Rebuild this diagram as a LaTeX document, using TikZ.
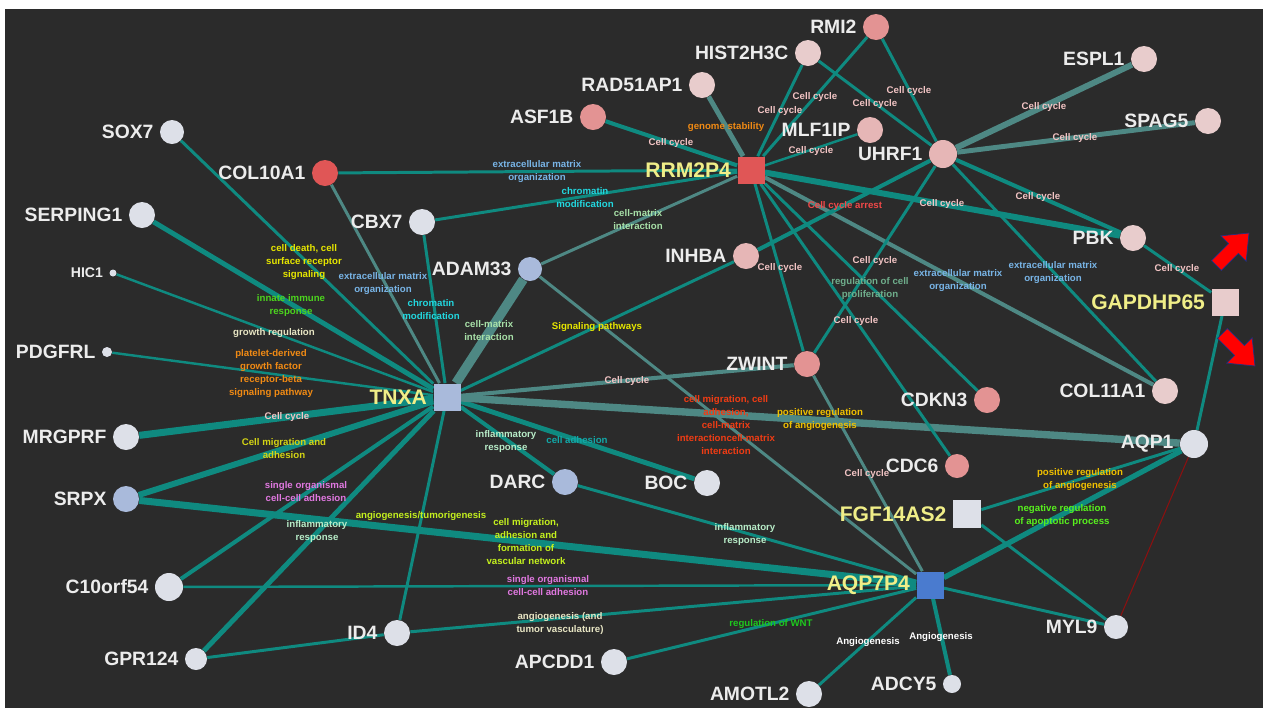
\documentclass[tikz,border=0pt]{standalone}
\usepackage{fontspec}
\setmainfont{Liberation Sans}
\usepackage{tikz}
\usetikzlibrary{calc}
\definecolor{bgc}{HTML}{2B2B2B}
\definecolor{tealc}{HTML}{0F8A80}
\definecolor{grayc}{HTML}{4E8884}
\definecolor{wh}{HTML}{DDE0E8}
\definecolor{lblu}{HTML}{A9BADB}
\definecolor{ppink}{HTML}{E8CCCC}
\definecolor{pink}{HTML}{E6B6B6}
\definecolor{salmon}{HTML}{E39393}
\definecolor{redn}{HTML}{E05656}
\definecolor{bluen}{HTML}{4A7BCF}
\definecolor{labw}{HTML}{ECECEC}
\definecolor{huby}{HTML}{F0EE88}
\definecolor{tpink}{HTML}{F2C4C4}
\definecolor{tyel}{HTML}{E6E600}
\definecolor{tlblue}{HTML}{78B4E6}
\definecolor{tcyan}{HTML}{22D8E0}
\definecolor{tlgreen}{HTML}{A8E0A8}
\definecolor{tgreen}{HTML}{4CD41E}
\definecolor{tcream}{HTML}{E8E6C4}
\definecolor{torange}{HTML}{F08A14}
\definecolor{tolive}{HTML}{D4D414}
\definecolor{tviolet}{HTML}{E078E0}
\definecolor{tmint}{HTML}{B8ECC8}
\definecolor{tygreen}{HTML}{C4F01E}
\definecolor{twnt}{HTML}{1EC81E}
\definecolor{tgold}{HTML}{F0C000}
\definecolor{tlime}{HTML}{58F01E}
\definecolor{tteal}{HTML}{12A8A8}
\definecolor{tred}{HTML}{F03C14}
\definecolor{tarrest}{HTML}{F04848}
\definecolor{tprolif}{HTML}{6FAE8C}
\definecolor{darkred}{HTML}{8B1010}
\definecolor{navy}{HTML}{203080}
\pgfdeclarelayer{back}
\pgfdeclarelayer{links}
\pgfsetlayers{back,links,main}

\begin{document}
\begin{tikzpicture}[x=0.02cm,y=-0.02cm,
	dot/.style={circle,fill=#1,inner sep=0pt,minimum size=0.52cm},
	hub/.style={rectangle,fill=#1,inner sep=0pt,minimum size=0.54cm},
	nlab/.style={text=labw,font=\fontsize{11}{13}\selectfont\bfseries},
	hlab/.style={text=huby,font=\fontsize{12}{14}\selectfont\bfseries},
	te/.style={draw=tealc,line width=#1},
	ge/.style={draw=grayc,line width=#1},
	elab/.style={text=#1,font=\fontsize{5.5}{7.4}\selectfont\bfseries,align=center,inner sep=0pt}]
	\useasboundingbox (0,0) rectangle (1263,708);
	\begin{pgfonlayer}{back}
		\fill[white] (0,0) rectangle (1263,708);
		\fill[bgc] (5,9) rectangle (1263,708);
	\end{pgfonlayer}

	% hubs
	\node[hub=lblu,label={[hlab]left:TNXA}] (tnxa) at (447,397) {};
	\node[hub=redn,label={[hlab]left:RRM2P4}] (rrm2p4) at (751,170) {};
	\node[hub=bluen,label={[hlab]left:AQP7P4}] (aqp7p4) at (930,585) {};
	\node[hub=wh,minimum size=0.56cm,label={[hlab]left:FGF14AS2}] (fgf14as2) at (967,514) {};
	\node[hub=ppink,label={[hlab]left:GAPDHP65}] (gapdhp65) at (1225,302) {};

	% genes
	\node[dot=wh,minimum size=0.48cm,label={[nlab]left:SOX7}] (sox7) at (172,132) {};
	\node[dot=redn,label={[nlab]left:COL10A1}] (col10a1) at (325,173) {};
	\node[dot=wh,label={[nlab]left:SERPING1}] (serping1) at (142,215) {};
	\node[dot=wh,label={[nlab]left:CBX7}] (cbx7) at (422,222) {};
	\node[dot=wh,minimum size=0.14cm,label={[nlab,font=\fontsize{8}{10}\selectfont\bfseries]left:HIC1}] (hic1) at (113,273) {};
	\node[dot=wh,minimum size=0.2cm,label={[nlab]left:PDGFRL}] (pdgfrl) at (107,352) {};
	\node[dot=lblu,minimum size=0.48cm,label={[nlab]left:ADAM33}] (adam33) at (530,269) {};
	\node[dot=wh,label={[nlab]left:MRGPRF}] (mrgprf) at (126,437) {};
	\node[dot=lblu,label={[nlab]left:SRPX}] (srpx) at (126,499) {};
	\node[dot=wh,minimum size=0.56cm,label={[nlab]left:C10orf54}] (c10orf54) at (169,587) {};
	\node[dot=wh,minimum size=0.44cm,label={[nlab]left:GPR124}] (gpr124) at (196,659) {};
	\node[dot=wh,label={[nlab]left:ID4}] (id4) at (397,633) {};
	\node[dot=lblu,label={[nlab]left:DARC}] (darc) at (565,482) {};
	\node[dot=wh,label={[nlab]left:BOC}] (boc) at (707,483) {};
	\node[dot=wh,label={[nlab]left:APCDD1}] (apcdd1) at (614,662) {};
	\node[dot=wh,label={[nlab]left:AMOTL2}] (amotl2) at (809,694) {};
	\node[dot=wh,minimum size=0.36cm,label={[nlab]left:ADCY5}] (adcy5) at (952,684) {};
	\node[dot=wh,minimum size=0.48cm,label={[nlab]left:MYL9}] (myl9) at (1116,627) {};
	\node[dot=wh,minimum size=0.56cm,label={[nlab]left:AQP1}] (aqp1) at (1194,444) {};
	\node[dot=ppink,label={[nlab]left:COL11A1}] (col11a1) at (1165,391) {};
	\node[dot=salmon,label={[nlab]left:CDKN3}] (cdkn3) at (987,400) {};
	\node[dot=salmon,minimum size=0.48cm,label={[nlab]left:CDC6}] (cdc6) at (957,466) {};
	\node[dot=ppink,label={[nlab]left:PBK}] (pbk) at (1133,238) {};
	\node[dot=salmon,label={[nlab]left:ZWINT}] (zwint) at (807,364) {};
	\node[dot=pink,label={[nlab]left:INHBA}] (inhba) at (746,256) {};
	\node[dot=pink,minimum size=0.56cm,label={[nlab]left:UHRF1}] (uhrf1) at (943,154) {};
	\node[dot=pink,label={[nlab]left:MLF1IP}] (mlf1ip) at (870,130) {};
	\node[dot=salmon,label={[nlab]left:RMI2}] (rmi2) at (876,27) {};
	\node[dot=ppink,label={[nlab]left:ESPL1}] (espl1) at (1144,59) {};
	\node[dot=ppink,label={[nlab]left:SPAG5}] (spag5) at (1208,121) {};
	\node[dot=salmon,label={[nlab]left:ASF1B}] (asf1b) at (593,117) {};
	\node[dot=ppink,label={[nlab]left:RAD51AP1}] (rad51ap1) at (702,85) {};
	\node[dot=ppink,label={[nlab]left:HIST2H3C}] (hist2h3c) at (808,53) {};

	\begin{pgfonlayer}{links}
		% TNXA
		\draw[te=1.7pt] (tnxa) -- (sox7);
		\draw[ge=1.7pt] (tnxa) -- (col10a1);
		\draw[te=2.8pt] (tnxa) -- (serping1);
		\draw[te=1.7pt] (tnxa) -- (cbx7);
		\draw[te=1.4pt] (tnxa) -- (hic1);
		\draw[ge=5.4pt] (tnxa) -- (adam33);
		\draw[te=1.4pt] (tnxa) -- (pdgfrl);
		\draw[te=4pt] (tnxa) -- (mrgprf);
		\draw[te=3.4pt] (tnxa) -- (srpx);
		\draw[te=2.3pt] (tnxa) -- (c10orf54);
		\draw[te=2.8pt] (tnxa) -- (gpr124);
		\draw[te=1.7pt] (tnxa) -- (id4);
		\draw[te=2.3pt] (tnxa) -- (darc);
		\draw[te=2.8pt] (tnxa) -- (boc);
		\draw[te=1.7pt] (tnxa) -- (inhba);
		\draw[ge=2.3pt] (tnxa) -- (zwint);
		\draw[ge=4.2pt] (tnxa) -- (aqp1);
		% RRM2P4
		\draw[te=2.3pt] (rrm2p4) -- (asf1b);
		\draw[ge=2.8pt] (rrm2p4) -- (rad51ap1);
		\draw[te=1.7pt] (rrm2p4) -- (hist2h3c);
		\draw[te=1.7pt] (rrm2p4) -- (rmi2);
		\draw[te=1.4pt] (rrm2p4) -- (mlf1ip);
		\draw[te=1.7pt] (rrm2p4) -- (col10a1);
		\draw[te=1.7pt] (rrm2p4) -- (cbx7);
		\draw[ge=1.7pt] (rrm2p4) -- (adam33);
		\draw[te=3.4pt] (rrm2p4) -- (pbk);
		\draw[te=1.7pt] (rrm2p4) -- (zwint);
		\draw[te=1.7pt] (rrm2p4) -- (cdkn3);
		\draw[te=1.7pt] (rrm2p4) -- (cdc6);
		\draw[ge=2.3pt] (rrm2p4) -- (col11a1);
		% UHRF1
		\draw[ge=3.4pt] (uhrf1) -- (espl1);
		\draw[ge=2.8pt] (uhrf1) -- (spag5);
		\draw[te=2.3pt] (uhrf1) -- (pbk);
		\draw[te=1.7pt] (uhrf1) -- (rmi2);
		\draw[te=1.7pt] (uhrf1) -- (hist2h3c);
		\draw[te=2.3pt] (uhrf1) -- (inhba);
		\draw[te=1.7pt] (uhrf1) -- (zwint);
		\draw[te=1.7pt] (uhrf1) -- (col11a1);
		% AQP7P4 and the rest
		\draw[te=1.7pt] (pbk) -- (gapdhp65);
		\draw[te=1.7pt] (gapdhp65) -- (aqp1);
		\draw[te=3pt] (aqp1) -- (aqp7p4);
		\draw[te=1.7pt] (aqp1) -- (fgf14as2);
		\draw[darkred,line width=0.6pt] (aqp1) -- (myl9);
		\draw[te=1.7pt] (fgf14as2) -- (myl9);
		\draw[te=1.7pt] (aqp7p4) -- (myl9);
		\draw[te=2.3pt] (aqp7p4) -- (adcy5);
		\draw[te=1.7pt] (aqp7p4) -- (amotl2);
		\draw[te=1.7pt] (aqp7p4) -- (apcdd1);
		\draw[te=1.7pt] (aqp7p4) -- (id4);
		\draw[te=1.7pt] (id4) -- (gpr124);
		\draw[te=1.4pt] (aqp7p4) -- (c10orf54);
		\draw[te=4pt] (aqp7p4) -- (srpx);
		\draw[te=1.7pt] (aqp7p4) -- (darc);
		\draw[ge=1.7pt] (aqp7p4) -- (adam33);
		\draw[ge=1.7pt] (aqp7p4) -- (zwint);
	\end{pgfonlayer}

	% edge labels
	\node[elab=tyel] (l1) at (304,262) {cell death, cell\\surface receptor\\signaling};
	\node[elab=tlblue] (l2) at (383,284) {extracellular matrix\\organization};
	\node[elab=tcyan] (l3) at (431,310) {chromatin\\modification};
	\node[elab=tlgreen] (l4) at (489,331) {cell-matrix\\interaction};
	\node[elab=tgreen] (l5) at (291,305) {innate immune\\response};
	\node[elab=tcream] (l6) at (274,333) {growth regulation};
	\node[elab=torange] (l7) at (271,374) {platelet-derived\\growth factor\\receptor-beta\\signaling pathway};
	\node[elab=tpink] (l8) at (287,417) {Cell cycle};
	\node[elab=tolive] (l9) at (284,449) {Cell migration and\\adhesion};
	\node[elab=tviolet] (l10) at (306,492) {single organismal\\cell-cell adhesion};
	\node[elab=tmint] (l11) at (317,531) {inflammatory\\response};
	\node[elab=tygreen] (l12) at (421,516) {angiogenesis/tumorigenesis};
	\node[elab=tygreen] (l13) at (526,542) {cell migration,\\adhesion and\\formation of\\vascular network};
	\node[elab=tviolet] (l14) at (548,586) {single organismal\\cell-cell adhesion};
	\node[elab=tcream] (l15) at (560,623) {angiogenesis (and\\tumor vasculature)};
	\node[elab=twnt] (l16) at (771,624) {regulation of WNT};
	\node[elab=tmint] (l17) at (745,534) {inflammatory\\response};
	\node[elab=white] (l18) at (868,642) {Angiogenesis};
	\node[elab=white] (l19) at (941,637) {Angiogenesis};
	\node[elab=tgold] (l20) at (1080,480) {positive regulation\\of angiogenesis};
	\node[elab=tlime] (l21) at (1062,515) {negative regulation\\of apoptotic process};
	\node[elab=tpink] (l22) at (867,474) {Cell cycle};
	\node[elab=tmint] (l23) at (506,441) {inflammatory\\response};
	\node[elab=tteal] (l24) at (577,440) {cell adhesion};
	\node[elab=tpink] (l25) at (627,381) {Cell cycle};
	\node[elab=tyel] (l26) at (597,327) {Signaling pathways};
	\node[elab=tred] (l27) at (726,425) {cell migration, cell\\adhesion,\\cell-matrix\\interactioncell-matrix\\interaction};
	\node[elab=tgold] (l28) at (820,420) {positive regulation\\of angiogenesis};
	\node[elab=tpink] (l29) at (671,143) {Cell cycle};
	\node[elab=torange] (l30) at (726,127) {genome stability};
	\node[elab=tpink] (l31) at (780,111) {Cell cycle};
	\node[elab=tpink] (l32) at (815,97) {Cell cycle};
	\node[elab=tpink] (l33) at (811,151) {Cell cycle};
	\node[elab=tlblue] (l34) at (537,172) {extracellular matrix\\organization};
	\node[elab=tcyan] (l35) at (585,198) {chromatin\\modification};
	\node[elab=tlgreen] (l36) at (638,220) {cell-matrix\\interaction};
	\node[elab=tarrest] (l37) at (845,206) {Cell cycle arrest};
	\node[elab=tpink] (l38) at (942,204) {Cell cycle};
	\node[elab=tpink] (l39) at (909,91) {Cell cycle};
	\node[elab=tpink] (l40) at (875,104) {Cell cycle};
	\node[elab=tpink] (l41) at (780,268) {Cell cycle};
	\node[elab=tpink] (l42) at (875,261) {Cell cycle};
	\node[elab=tprolif] (l43) at (870,288) {regulation of cell\\proliferation};
	\node[elab=tpink] (l44) at (856,321) {Cell cycle};
	\node[elab=tlblue] (l45) at (958,281) {extracellular matrix\\organization};
	\node[elab=tlblue] (l46) at (1053,273) {extracellular matrix\\organization};
	\node[elab=tpink] (l47) at (1177,269) {Cell cycle};
	\node[elab=tpink] (l48) at (1044,107) {Cell cycle};
	\node[elab=tpink] (l49) at (1075,138) {Cell cycle};
	\node[elab=tpink] (l50) at (1038,197) {Cell cycle};

	% red arrows
	\filldraw[fill=red,draw=navy,line width=0.4pt,shift={(1232,250)},rotate=45]
		(-22,-7) -- (2,-7) -- (2,-18) -- (24,0) -- (2,18) -- (2,7) -- (-22,7) -- cycle;
	\filldraw[fill=red,draw=navy,line width=0.4pt,shift={(1238,349)},rotate=-45]
		(-22,-7) -- (2,-7) -- (2,-18) -- (24,0) -- (2,18) -- (2,7) -- (-22,7) -- cycle;
\end{tikzpicture}
\end{document}
